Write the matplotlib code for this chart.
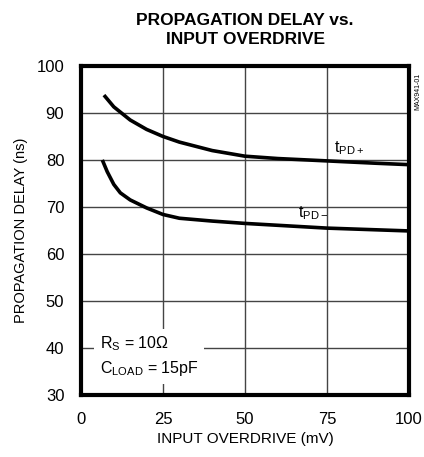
import matplotlib.pyplot as plt
import numpy as np

plt.rcParams['font.family'] = ['Liberation Sans', 'DejaVu Sans']

# Data
overdrive_pos = [7, 10, 15, 20, 25, 30, 40, 50, 60, 75, 90, 100]
tpd_pos = [93.8, 91.3, 88.5, 86.5, 85.0, 83.8, 82.0, 80.8, 80.3, 79.8, 79.3, 79.0]

overdrive_neg = [6.5, 8, 10, 12, 15, 20, 25, 30, 40, 50, 75, 100]
tpd_neg = [80.0, 77.5, 74.8, 73.0, 71.5, 69.8, 68.4, 67.6, 67.0, 66.5, 65.5, 64.9]

x_ticks = [0, 25, 50, 75, 100]
y_ticks = [30, 40, 50, 60, 70, 80, 90, 100]

fig = plt.figure(figsize=(4.24, 4.57), dpi=100)
ax = fig.add_axes([0.191, 0.1357, 0.7736, 0.72])

ax.plot(overdrive_pos, tpd_pos, color='black', linewidth=2.6, solid_capstyle='butt')
ax.plot(overdrive_neg, tpd_neg, color='black', linewidth=2.6, solid_capstyle='butt')

ax.set_xlim(0, 100)
ax.set_ylim(30, 100)
ax.set_xticks(x_ticks)
ax.set_yticks(y_ticks)
ax.tick_params(length=0, labelsize=12)
ax.tick_params(axis='x', pad=12)
ax.tick_params(axis='y', pad=12)
ax.grid(True, color='#444444', linewidth=1.0)
for s in ax.spines.values():
    s.set_linewidth(3)

ax.text(77, 80.7, r'$\mathregular{t_{PD+}}$', fontsize=11.5, ha='left', va='bottom')
ax.text(66.3, 66.9, r'$\mathregular{t_{PD-}}$', fontsize=11.5, ha='left', va='bottom')

ax.text(5.8, 38.3,
        r'$\mathregular{R_S}$ = 10$\mathregular{\Omega}$' + '\n' + r'$\mathregular{C_{LOAD}}$ = 15pF',
        fontsize=11.5, ha='left', va='center', linespacing=1.45,
        bbox=dict(facecolor='white', edgecolor='none', pad=4))

ax.set_xlabel('INPUT OVERDRIVE (mV)', fontsize=11, labelpad=4)
ax.set_ylabel('PROPAGATION DELAY (ns)', fontsize=10.5, labelpad=6)

fig.text(0.578, 0.935, 'PROPAGATION DELAY vs.\nINPUT OVERDRIVE', ha='center', va='center',
         fontsize=12.5, fontweight='bold', linespacing=1.3,
         family=['Liberation Sans Narrow', 'Liberation Sans', 'DejaVu Sans'])
fig.text(0.986, 0.80, 'MAX941-01', rotation=90, fontsize=5, ha='center', va='center')

fig.savefig('out.png', dpi=100, facecolor='white')
